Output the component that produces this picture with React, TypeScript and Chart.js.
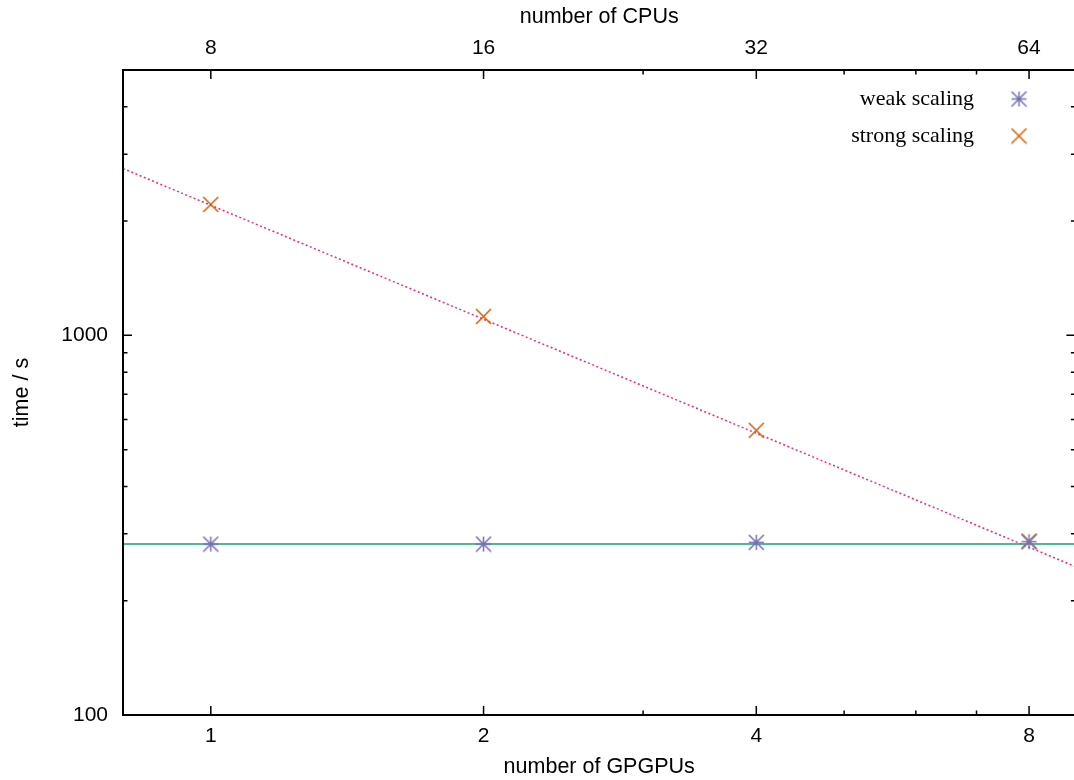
import React, { useEffect, useRef } from 'react';
import { Chart, registerables } from 'chart.js';

Chart.register(...registerables);

// ---- data ----
const gpgpus = [1, 2, 4, 8];
const weakScalingTime = [282, 282, 285, 286];
const strongScalingTime = [2213, 1122, 562, 287];
const fitRangeGpgpus = [0.8, 9];
const weakFitTime = [282, 282];
const strongFitTime = [2750, 246];

// ---- tick labels ----
const gpuMajorTicks = [1, 2, 4, 8];
const gpuMinorTicks = [3, 5, 6, 7];
const cpuMajorTicks = [8, 16, 32, 64];
const cpuMinorTicks = [24, 40, 48, 56];
const timeMajorTicks = [100, 1000];
const timeMinorTicks = [200, 300, 400, 500, 600, 700, 800, 900, 2000, 3000, 4000];

const legendLabels = ['weak scaling', 'strong scaling'];

const SANS = '"Liberation Sans", Arial, Helvetica, sans-serif';
const SERIF = '"Liberation Serif", "Times New Roman", serif';

const COLORS = {
  weak: '#7570b3',
  strong: '#d95f02',
  weakFit: '#1b9e77',
  strongFit: '#e7298a',
};

// gnuplot-like marker glyphs drawn on small canvases
function makeMarker(kind: 'star' | 'cross', color: string): HTMLCanvasElement {
  const size = 17;
  const c = document.createElement('canvas');
  c.width = size;
  c.height = size;
  const g = c.getContext('2d')!;
  const m = size / 2;
  const r = 7.5;
  g.strokeStyle = color;
  g.lineWidth = 1.5;
  g.beginPath();
  g.moveTo(m - r, m - r);
  g.lineTo(m + r, m + r);
  g.moveTo(m - r, m + r);
  g.lineTo(m + r, m - r);
  if (kind === 'star') {
    g.moveTo(m, m - r);
    g.lineTo(m, m + r);
    g.moveTo(m - r, m);
    g.lineTo(m + r, m);
  }
  g.stroke();
  return c;
}

const framePlugin = {
  id: 'gnuplotFrame',
  afterDraw(chart: any) {
    const { ctx, chartArea: a, scales } = chart;
    const major = 9;
    const minor = 4.5;
    ctx.save();
    ctx.strokeStyle = '#000';
    ctx.lineWidth = 1.5;
    ctx.beginPath();
    const hTicks = (scale: any, values: number[], len: number, side: 'top' | 'bottom') => {
      values.forEach((v) => {
        const px = scale.getPixelForValue(v);
        if (side === 'bottom') {
          ctx.moveTo(px, a.bottom);
          ctx.lineTo(px, a.bottom - len);
        } else {
          ctx.moveTo(px, a.top);
          ctx.lineTo(px, a.top + len);
        }
      });
    };
    const vTicks = (scale: any, values: number[], len: number) => {
      values.forEach((v) => {
        const py = scale.getPixelForValue(v);
        ctx.moveTo(a.left, py);
        ctx.lineTo(a.left + len, py);
        ctx.moveTo(a.right, py);
        ctx.lineTo(a.right - len, py);
      });
    };
    hTicks(scales.x, gpuMajorTicks, major, 'bottom');
    hTicks(scales.x, gpuMinorTicks, minor, 'bottom');
    hTicks(scales.x2, cpuMajorTicks, major, 'top');
    hTicks(scales.x2, cpuMinorTicks, minor, 'top');
    vTicks(scales.y, timeMajorTicks, major);
    vTicks(scales.y, timeMinorTicks, minor);
    ctx.stroke();

    ctx.lineWidth = 2;
    ctx.strokeRect(a.left, a.top, a.right - a.left, a.bottom - a.top);

    // legend (top right, text right-aligned, marker to the right)
    ctx.font = `22px ${SERIF}`;
    ctx.fillStyle = '#000';
    ctx.textAlign = 'right';
    ctx.textBaseline = 'middle';
    [0, 1].forEach((di, i) => {
      const ds = chart.data.datasets[di];
      const y = 99 + i * 37;
      ctx.fillText(legendLabels[i], 974, y);
      const img = ds.pointStyle as HTMLCanvasElement;
      ctx.drawImage(img, 1019 - img.width / 2, y - img.height / 2);
    });
    ctx.restore();
  },
};

export default function App() {
  const canvasRef = useRef<HTMLCanvasElement | null>(null);

  useEffect(() => {
    document.body.style.overflow = 'hidden';
    document.body.style.margin = '0';
    const canvas = canvasRef.current;
    if (!canvas) return;

    const tickFont = { family: SANS, size: 21 };
    const titleFont = { family: SANS, size: 21.5 };

    const chart = new Chart(canvas, {
      type: 'scatter',
      data: {
        datasets: [
          {
            label: legendLabels[0],
            data: gpgpus.map((x, i) => ({ x, y: weakScalingTime[i] })),
            pointStyle: makeMarker('star', COLORS.weak),
            pointRadius: 8,
            borderColor: COLORS.weak,
            backgroundColor: COLORS.weak,
            borderWidth: 1.5,
            showLine: false,
          },
          {
            label: legendLabels[1],
            data: gpgpus.map((x, i) => ({ x, y: strongScalingTime[i] })),
            pointStyle: makeMarker('cross', COLORS.strong),
            pointRadius: 8,
            borderColor: COLORS.strong,
            backgroundColor: COLORS.strong,
            borderWidth: 1.5,
            showLine: false,
          },
          {
            label: 'weak fit',
            data: fitRangeGpgpus.map((x, i) => ({ x, y: weakFitTime[i] })),
            showLine: true,
            pointRadius: 0,
            borderColor: COLORS.weakFit,
            borderWidth: 1.5,
          },
          {
            label: 'strong fit',
            data: fitRangeGpgpus.map((x, i) => ({ x, y: strongFitTime[i] })),
            showLine: true,
            pointRadius: 0,
            borderColor: COLORS.strongFit,
            borderWidth: 1.5,
            borderDash: [2, 2.5],
          },
        ] as any,
      },
      options: {
        animation: false,
        responsive: false,
        maintainAspectRatio: false,
        devicePixelRatio: 1,
        layout: { autoPadding: false, padding: { left: 0, top: 0, bottom: 0, right: 4.6 } },
        plugins: {
          legend: { display: false },
          tooltip: { enabled: false },
        },
        scales: {
          x: {
            type: 'logarithmic',
            position: 'bottom',
            min: 0.8,
            max: 9,
            grid: { display: false, drawTicks: false },
            border: { display: false },
            ticks: {
              padding: 9,
              font: tickFont,
              color: '#000',
              autoSkip: false,
              maxRotation: 0,
              callback: (v: any) => String(v),
            },
            title: {
              display: true,
              text: 'number of GPGPUs',
              font: titleFont,
              color: '#000',
              padding: { top: 0, bottom: 0 },
            },
            afterBuildTicks: (s: any) => {
              s.ticks = gpuMajorTicks.map((v) => ({ value: v }));
            },
            afterFit: (s: any) => {
              s.height = 65;
            },
          },
          x2: {
            type: 'logarithmic',
            position: 'top',
            min: 6.4,
            max: 72,
            grid: { display: false, drawTicks: false },
            border: { display: false },
            ticks: {
              padding: 9,
              font: tickFont,
              color: '#000',
              autoSkip: false,
              maxRotation: 0,
              callback: (v: any) => String(v),
            },
            title: {
              display: true,
              text: 'number of CPUs',
              font: titleFont,
              color: '#000',
              padding: { top: 4, bottom: 0 },
            },
            afterBuildTicks: (s: any) => {
              s.ticks = cpuMajorTicks.map((v) => ({ value: v }));
            },
            afterFit: (s: any) => {
              s.height = 70;
            },
          },
          y: {
            type: 'logarithmic',
            position: 'left',
            min: 100,
            max: 5000,
            grid: { display: false, drawTicks: false },
            border: { display: false },
            ticks: {
              padding: 15,
              font: tickFont,
              color: '#000',
              autoSkip: false,
              callback: (v: any) => String(v),
            },
            title: {
              display: true,
              text: 'time / s',
              font: titleFont,
              color: '#000',
              padding: { top: 9, bottom: 0 },
            },
            afterBuildTicks: (s: any) => {
              s.ticks = timeMajorTicks.map((v) => ({ value: v }));
            },
            afterFit: (s: any) => {
              s.width = 123;
            },
          },
        },
      } as any,
      plugins: [framePlugin],
    });

    return () => {
      chart.destroy();
    };
  }, []);

  return (
    <div style={{ position: 'fixed', left: 0, top: 0, width: 1074, height: 780, background: '#fff', overflow: 'hidden' }}>
      <canvas ref={canvasRef} width={1080} height={780} style={{ display: 'block' }} />
    </div>
  );
}
